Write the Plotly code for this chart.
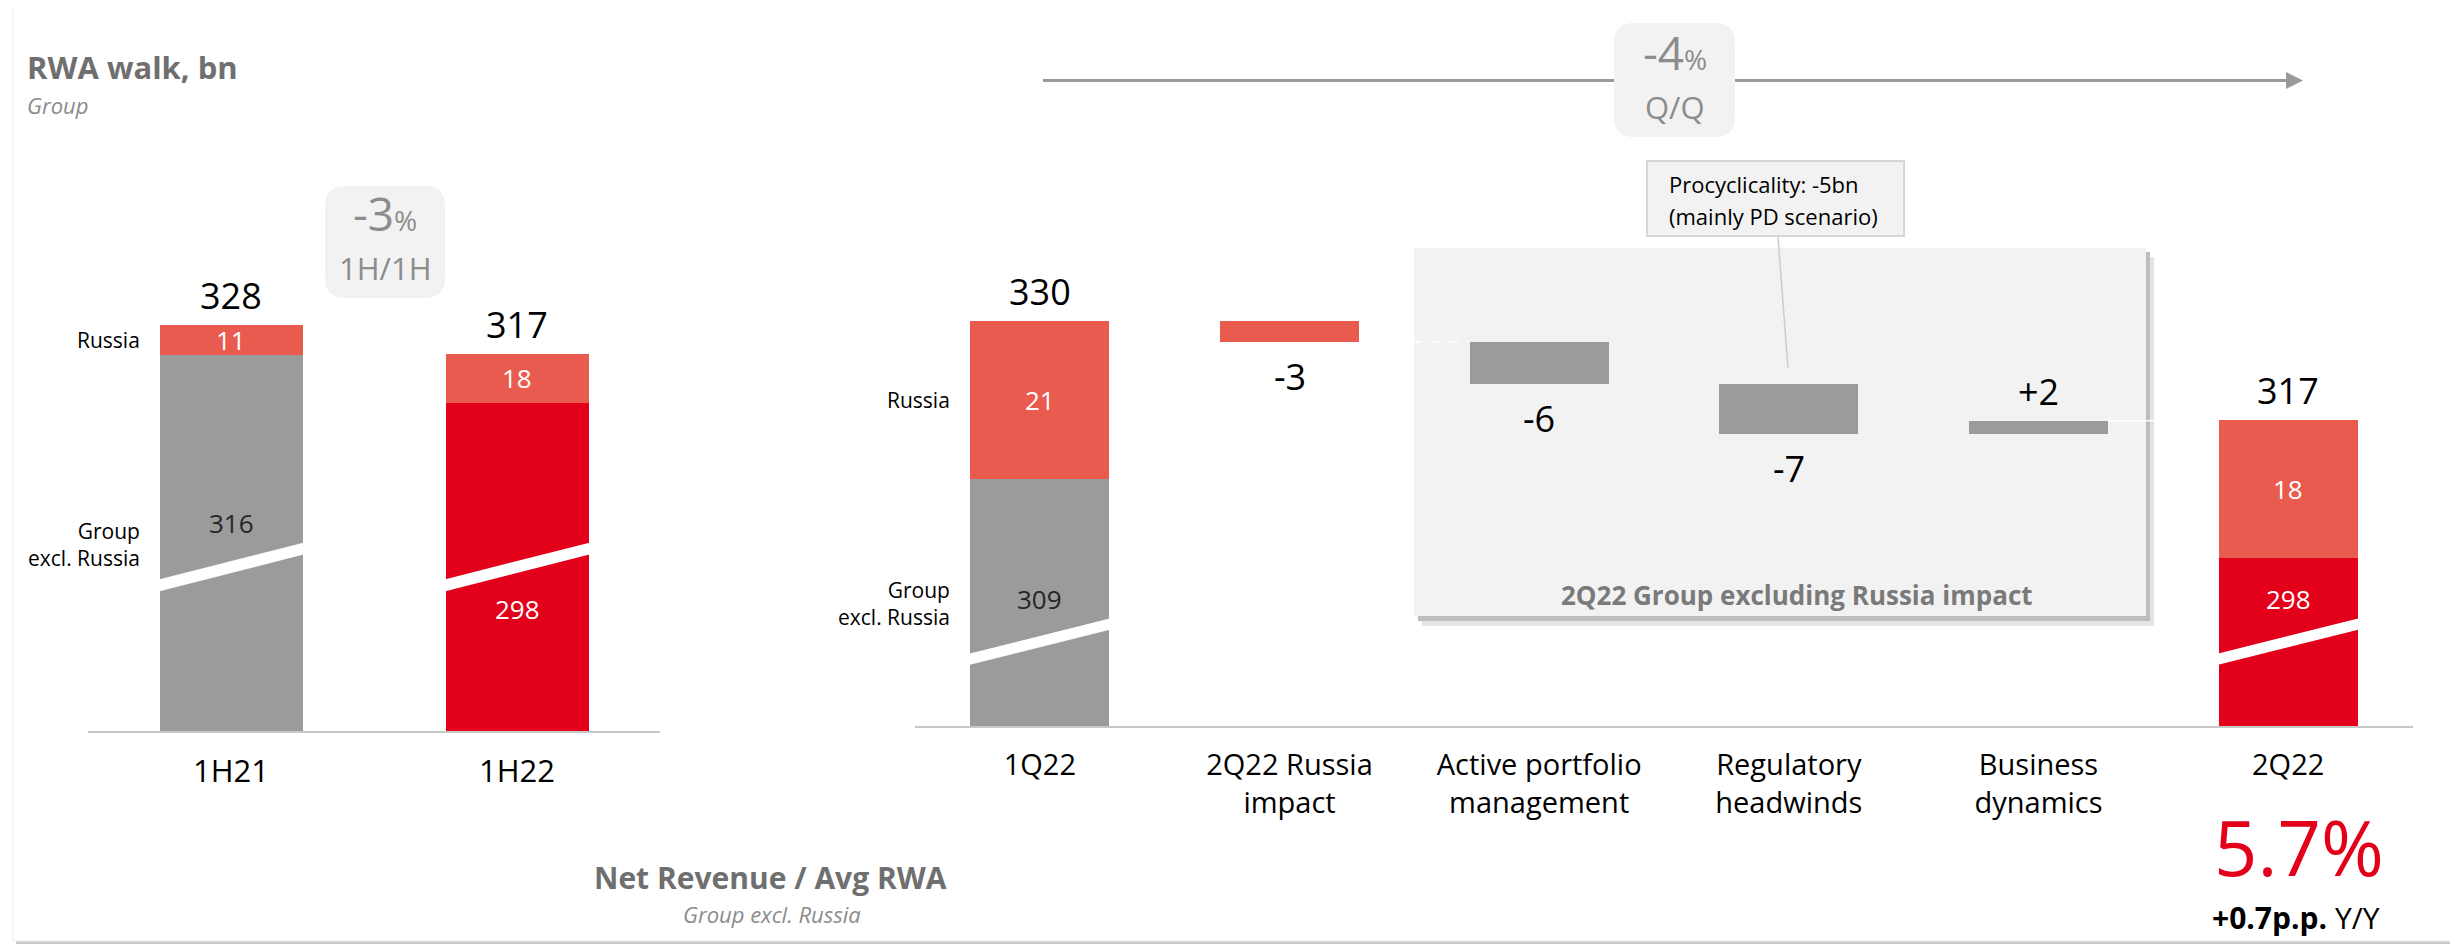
import plotly.graph_objects as go

W, H = 2458, 952          # screen size
OFF = 8                   # page body margin
WF, HF = W - OFF, H - 2 * OFF   # figure size so the page fits the window

# ---------------- data ----------------
half_cats = ["1H21", "1H22"]
half_russia = [11.3, 18.4]          # Russia RWA, bn
half_group = [316.4, 298.4]         # Group excl. Russia RWA, bn

walk_cats = ["1Q22", "2Q22 Russia<br>impact", "Active portfolio<br>management",
             "Regulatory<br>headwinds", "Business<br>dynamics", "2Q22"]
end_russia = [21.0, 18.4]           # 1Q22, 2Q22
end_group = [309.0, 298.4]          # 1Q22, 2Q22
walk_steps = [-2.8, -5.6, -6.6, 1.7]

hh_change_pct = -3
qq_change_pct = -4
nr_rwa_pct = 5.7
nr_rwa_delta_pp = 0.7
procyc_bn = -5

# ---------------- style ----------------
GREY = "#9b9b9b"
RU = "#ea5b4f"
RED = "#e2001a"
PANEL = "#f2f2f2"
TXT_GREY = "#8c8c8c"
TITLE_GREY = "#6f6f6f"
FONT = "Open Sans"

BREAK1 = 175.0   # hidden part of the broken axis, left chart
BREAK2 = 276.0   # hidden part of the broken axis, right chart
W1 = 0.5
W2 = 0.556
S1 = 2.66        # px per bn, left chart
S2 = 7.5         # px per bn, right chart
BASE1_PX = 731
BASE2_PX = 726


def X(p):
    return (p - OFF) / WF


def Y(p):
    return 1 - (p - OFF) / HF


def fmt(v):
    return f"{v:.0f}"


fig = go.Figure()

# ---------------- left chart ----------------
lx = list(range(len(half_cats)))
lg_vis = [g - BREAK1 for g in half_group]
fig.add_trace(go.Bar(x=lx, y=lg_vis, base=[0] * len(lx), width=W1,
                     marker=dict(color=[GREY, RED], line_width=0),
                     xaxis="x", yaxis="y", hoverinfo="skip", showlegend=False))
fig.add_trace(go.Bar(x=lx, y=half_russia, base=lg_vis, width=W1,
                     marker=dict(color=RU, line_width=0),
                     xaxis="x", yaxis="y", hoverinfo="skip", showlegend=False))

# ---------------- right chart ----------------
n = len(walk_cats)
ends_x = [0, n - 1]
eg_vis = [g - BREAK2 for g in end_group]
fig.add_trace(go.Bar(x=ends_x, y=eg_vis, base=[0, 0], width=W2,
                     marker=dict(color=[GREY, RED], line_width=0),
                     xaxis="x2", yaxis="y2", hoverinfo="skip", showlegend=False))
fig.add_trace(go.Bar(x=ends_x, y=end_russia, base=eg_vis, width=W2,
                     marker=dict(color=RU, line_width=0),
                     xaxis="x2", yaxis="y2", hoverinfo="skip", showlegend=False))

start = end_group[0] + end_russia[0]
levels = [start]
for s in walk_steps:
    levels.append(levels[-1] + s)
step_x = list(range(1, 1 + len(walk_steps)))
step_base = [min(levels[i], levels[i + 1]) - BREAK2 for i in range(len(walk_steps))]
step_h = [abs(s) for s in walk_steps]
fig.add_trace(go.Bar(x=step_x, y=step_h, base=step_base, width=W2,
                     marker=dict(color=[RU, GREY, GREY, GREY], line_width=0),
                     xaxis="x2", yaxis="y2", hoverinfo="skip", showlegend=False))

shapes = []
ann = []


def rrect(x0, y0, x1, y1, r):
    pts = [
        f"M{X(x0 + r)},{Y(y0)}", f"L{X(x1 - r)},{Y(y0)}",
        f"Q{X(x1)},{Y(y0)} {X(x1)},{Y(y0 + r)}", f"L{X(x1)},{Y(y1 - r)}",
        f"Q{X(x1)},{Y(y1)} {X(x1 - r)},{Y(y1)}", f"L{X(x0 + r)},{Y(y1)}",
        f"Q{X(x0)},{Y(y1)} {X(x0)},{Y(y1 - r)}", f"L{X(x0)},{Y(y0 + r)}",
        f"Q{X(x0)},{Y(y0)} {X(x0 + r)},{Y(y0)}", "Z"]
    return " ".join(pts)


def prect(x0, y0, x1, y1, fill, line=None, lw=0, layer="below"):
    shapes.append(dict(type="rect", xref="paper", yref="paper",
                       x0=X(x0), x1=X(x1), y0=Y(y1), y1=Y(y0),
                       fillcolor=fill, line=dict(color=line or fill, width=lw),
                       layer=layer))


# outer panel with shadow
prect(16, 10, 2458, 944, "#c9c9c9")
prect(13, 7, 2455, 941, "#ffffff", line="#ececec", lw=1)

# grey "Group excluding Russia impact" box with shadow
prect(1422, 257, 2154, 626, "#e4e4e4")
prect(1418, 252, 2150, 621, "#bdbdbd")
prect(1414, 248, 2146, 616, PANEL)

# callout box + leader
prect(1647, 161, 1904, 236, PANEL, line="#d6d6d6", lw=2)
shapes.append(dict(type="line", xref="paper", yref="paper",
                   x0=X(1778), y0=Y(237), x1=X(1788), y1=Y(368),
                   line=dict(color="#cccccc", width=1.5), layer="below"))

# Q/Q arrow
shapes.append(dict(type="line", xref="paper", yref="paper",
                   x0=X(1043), y0=Y(80.5), x1=X(2290), y1=Y(80.5),
                   line=dict(color="#9a9a9a", width=3), layer="below"))
shapes.append(dict(type="path", xref="paper", yref="paper",
                   path=f"M{X(2286)},{Y(72)} L{X(2303)},{Y(80.5)} L{X(2286)},{Y(89)} Z",
                   fillcolor="#9a9a9a", line=dict(width=0), layer="below"))

# rounded change boxes
shapes.append(dict(type="path", xref="paper", yref="paper",
                   path=rrect(325, 186, 445, 298, 20), fillcolor=PANEL,
                   line=dict(width=0), layer="below"))
shapes.append(dict(type="path", xref="paper", yref="paper",
                   path=rrect(1614, 23, 1735, 137, 20), fillcolor=PANEL,
                   line=dict(width=0), layer="below"))


# axis-break slashes
def slash(xr, yr, xc, w, yl, yrr, th):
    e = 0.01
    x0, x1 = xc - w / 2 - e, xc + w / 2 + e
    shapes.append(dict(type="path", xref=xr, yref=yr,
                       path=f"M{x0},{yl} L{x1},{yrr} L{x1},{yrr + th} L{x0},{yl + th} Z",
                       fillcolor="#ffffff", line=dict(width=0), layer="above"))


for i in lx:
    slash("x", "y", i, W1, 52.3, 66.5, 4.5)
for i in ends_x:
    slash("x2", "y2", i, W2, 8.1, 12.9, 1.5)

# waterfall connectors visible on the grey box
shapes.append(dict(type="line", xref="x2", yref="y2",
                   x0=1 + W2 / 2, x1=2 - W2 / 2,
                   y0=levels[1] - BREAK2, y1=levels[1] - BREAK2,
                   line=dict(color="#ffffff", width=1.5, dash="dash"), layer="above"))
shapes.append(dict(type="line", xref="x2", yref="y2",
                   x0=4 + W2 / 2, x1=5 - W2 / 2,
                   y0=levels[4] - BREAK2, y1=levels[4] - BREAK2,
                   line=dict(color="#ffffff", width=1.5), layer="above"))


def a(text, x, y, xref="paper", yref="paper", size=20, color="#000000",
      xanchor="center", yanchor="middle", align="center", xshift=0, yshift=0):
    ann.append(dict(text=text, x=x, y=y, xref=xref, yref=yref, showarrow=False,
                    font=dict(family=FONT, size=size, color=color),
                    xanchor=xanchor, yanchor=yanchor, align=align,
                    xshift=xshift, yshift=yshift))


# left labels
HALF_GROUP_LABEL_Y = [78.2, 45.9]
HALF_GROUP_LABEL_COLOR = ["#262626", "#ffffff"]
for i in lx:
    tot = half_group[i] + half_russia[i]
    a(fmt(tot), i, tot - BREAK1, "x", "y", size=36, yanchor="bottom", yshift=3)
    a(fmt(half_russia[i]), i, lg_vis[i] + half_russia[i] / 2, "x", "y", size=26, color="#ffffff")
    a(fmt(half_group[i]), i, HALF_GROUP_LABEL_Y[i], "x", "y", size=26,
      color=HALF_GROUP_LABEL_COLOR[i])
a("Russia", -W1 / 2, lg_vis[0] + half_russia[0] / 2, "x", "y", size=21,
  xanchor="right", xshift=-18)
a("Group<br>excl. Russia", -W1 / 2, 70, "x", "y", size=21, xanchor="right",
  align="right", xshift=-18)

# right labels
END_GROUP_LABEL_COLOR = ["#262626", "#ffffff"]
for k, i in enumerate(ends_x):
    tot = end_group[k] + end_russia[k]
    a(fmt(tot), i, tot - BREAK2, "x2", "y2", size=36, yanchor="bottom", yshift=3)
    a(fmt(end_russia[k]), i, eg_vis[k] + end_russia[k] / 2, "x2", "y2", size=26, color="#ffffff")
    a(fmt(end_group[k]), i, 16.9, "x2", "y2", size=26, color=END_GROUP_LABEL_COLOR[k])
for j, s in enumerate(walk_steps):
    i = step_x[j]
    if s < 0:
        a(f"{s:.0f}", i, step_base[j], "x2", "y2", size=36, yanchor="top", yshift=-8)
    else:
        a(f"{s:+.0f}", i, step_base[j] + step_h[j], "x2", "y2", size=36,
          yanchor="bottom", yshift=3)
a("Russia", -W2 / 2, eg_vis[0] + end_russia[0] / 2, "x2", "y2", size=21,
  xanchor="right", xshift=-18)
a("Group<br>excl. Russia", -W2 / 2, 16.3, "x2", "y2", size=21, xanchor="right",
  align="right", xshift=-18)

# titles and notes
a("<b>RWA walk, bn</b>", X(25), Y(67), size=31, color=TITLE_GREY, xanchor="left")
a("<i>Group</i>", X(25), Y(105), size=22, color=TXT_GREY, xanchor="left")
a(f"{hh_change_pct}<span style='font-size:28px'>%</span>", X(385), Y(213), size=46, color=TXT_GREY)
a("1H/1H", X(385), Y(268), size=31, color=TXT_GREY)
a(f"{qq_change_pct}<span style='font-size:28px'>%</span>", X(1675), Y(52), size=46, color=TXT_GREY)
a("Q/Q", X(1675), Y(107), size=31, color=TXT_GREY)
a(f"Procyclicality: {procyc_bn}bn", X(1667), Y(184), size=22, xanchor="left")
a("(mainly PD scenario)", X(1667), Y(216), size=22, xanchor="left")
a("<b>2Q22 Group excluding Russia impact</b>", X(1797), Y(595), size=26, color="#7a7a7a")
a("<b>Net Revenue / Avg RWA</b>", X(770), Y(877), size=30, color=TITLE_GREY)
a("<i>Group excl. Russia</i>", X(772), Y(914), size=22, color=TXT_GREY)
a(f"{nr_rwa_pct:.1f}%", X(2299), Y(846), size=76, color=RED)
a(f"<b>+{nr_rwa_delta_pp:.1f}p.p.</b> Y/Y", X(2382), Y(917), size=30, xanchor="right")

axis_common = dict(showgrid=False, zeroline=False, showline=True, linecolor="#c8c8c8",
                   linewidth=2, ticks="", ticklabelstandoff=12, fixedrange=True)

fig.update_layout(
    width=WF, height=HF, margin=dict(l=0, r=0, t=0, b=0),
    paper_bgcolor="#ffffff", plot_bgcolor="rgba(0,0,0,0)",
    font=dict(family=FONT), barmode="overlay", bargap=0, showlegend=False,
    xaxis=dict(domain=[X(88), X(660)], range=[-0.5, len(half_cats) - 0.5],
               tickmode="array", tickvals=lx, ticktext=half_cats, anchor="y",
               tickfont=dict(family=FONT, size=31, color="#000000"), **axis_common),
    yaxis=dict(domain=[Y(BASE1_PX), 1], range=[0, (BASE1_PX - OFF) / S1],
               visible=False, anchor="x"),
    xaxis2=dict(domain=[X(915), X(2413)], range=[-0.5, n - 0.5],
                tickmode="array", tickvals=list(range(n)), ticktext=walk_cats,
                anchor="y2", tickfont=dict(family=FONT, size=29, color="#000000"),
                **axis_common),
    yaxis2=dict(domain=[Y(BASE2_PX), 1], range=[0, (BASE2_PX - OFF) / S2],
                visible=False, anchor="x2"),
    shapes=shapes, annotations=ann,
)

fig.write_html("out.html", config={"displayModeBar": False})
